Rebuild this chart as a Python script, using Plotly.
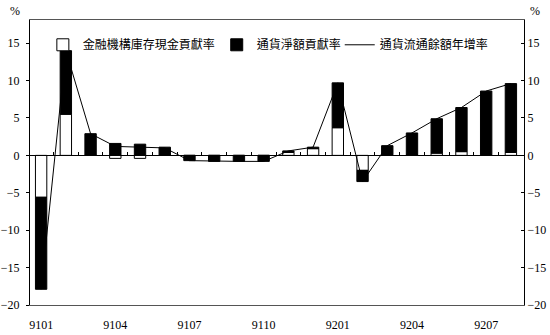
import plotly.graph_objects as go

months = ["9101", "9102", "9103", "9104", "9105", "9106", "9107", "9108", "9109", "9110",
          "9111", "9112", "9201", "9202", "9203", "9204", "9205", "9206", "9207", "9208"]
cash_contrib = [-5.6, 5.5, 0.0, -0.4, -0.4, 0.0, 0.0, 0.0, 0.0, 0.0,
                0.4, 0.9, 3.7, -2.0, 0.1, 0.1, 0.3, 0.5, 0.1, 0.4]
net_contrib = [-12.3, 8.5, 2.9, 1.6, 1.5, 1.1, -0.7, -0.8, -0.8, -0.8,
               0.2, 0.2, 6.0, -1.5, 1.2, 2.9, 4.6, 5.9, 8.5, 9.2]
growth = [-17.9, 14.0, 2.9, 1.2, 1.1, 1.0, -0.7, -0.8, -0.8, -0.8,
          0.6, 1.1, 9.7, -3.5, 1.3, 3.0, 4.9, 6.4, 8.6, 9.6]
tick_labels = ["9101", "9104", "9107", "9110", "9201", "9204", "9207"]
y_ticks = [-20, -15, -10, -5, 0, 5, 10, 15]

names = ["金融機構庫存現金貢獻率", "通貨淨額貢獻率", "通貨流通餘額年增率"]

x = list(range(len(months)))
tickpos = [months.index(t) for t in tick_labels]
YR = [-20, 18.1]
XR = [-0.45, len(months) - 0.47]

fig = go.Figure()
fig.add_trace(go.Bar(x=x, y=cash_contrib, name=names[0], width=0.46, legend="legend",
                     marker=dict(color="white", line=dict(color="black", width=1))))
fig.add_trace(go.Bar(x=x, y=net_contrib, name=names[1], width=0.46, legend="legend2",
                     marker=dict(color="black", line=dict(color="black", width=1))))
fig.add_trace(go.Scatter(x=x, y=growth, name=names[2], mode="lines", legend="legend3",
                         line=dict(color="black", width=1)))
# invisible trace for right axis
fig.add_trace(go.Scatter(x=[x[0]], y=[0], yaxis="y2", xaxis="x", showlegend=False,
                         mode="markers", marker=dict(opacity=0), hoverinfo="skip"))
# zero-line axis with category ticks
fig.add_trace(go.Scatter(x=[x[0]], y=[0], xaxis="x2", yaxis="y", showlegend=False,
                         mode="markers", marker=dict(opacity=0), hoverinfo="skip"))

zero_pos = (0 - YR[0]) / (YR[1] - YR[0])

tickfont = dict(family="Liberation Serif", size=12, color="black")
legfont = dict(family="Noto Sans CJK TC", size=12, color="black")


def leg(xp):
    return dict(orientation="h", x=xp, y=0.913, xanchor="left", yanchor="middle",
                bgcolor="rgba(0,0,0,0)", font=legfont, itemwidth=30)


fig.update_layout(
    template="none",
    width=550, height=335,
    margin=dict(l=30, r=26, t=20, b=30, autoexpand=False),
    paper_bgcolor="white", plot_bgcolor="white",
    barmode="relative",
    font=dict(family="Noto Sans CJK TC", size=12, color="black"),
    showlegend=True,
    legend=leg(0.026),
    legend2=leg(0.378),
    legend3=leg(0.627),
    xaxis=dict(range=XR, tickmode="array", tickvals=tickpos, ticktext=tick_labels,
               ticks="", showgrid=False, zeroline=False, showline=True, automargin=False,
               linecolor="#555", linewidth=1, mirror=True, tickfont=tickfont,
               ticklabelstandoff=9),
    xaxis2=dict(range=XR, overlaying="x", anchor="free", position=zero_pos,
                tickmode="array", tickvals=[i + 0.5 for i in x[:-1]], ticks="inside",
                ticklen=3, tickcolor="black", showticklabels=False, showgrid=False,
                automargin=False,
                zeroline=False, showline=True, linecolor="black", linewidth=1),
    yaxis=dict(range=YR, tickvals=y_ticks, ticks="outside", ticklen=3, tickcolor="black",
               showgrid=False, zeroline=False, showline=True, linecolor="black",
               automargin=False,
               linewidth=1, tickfont=tickfont, ticklabelstandoff=4),
    yaxis2=dict(range=YR, tickvals=y_ticks, overlaying="y", side="right", anchor="x",
                ticks="inside", ticklen=3, tickcolor="black", showgrid=False,
                automargin=False,
                zeroline=False, showline=True, linecolor="black", linewidth=1,
                tickfont=tickfont),
    annotations=[
        dict(text="%", x=0, xref="paper", xshift=-15, y=1, yref="paper", yshift=9,
             showarrow=False, font=tickfont, xanchor="center", yanchor="middle"),
        dict(text="%", x=1, xref="paper", xshift=11, y=1, yref="paper", yshift=9,
             showarrow=False, font=tickfont, xanchor="center", yanchor="middle"),
    ],
)

fig.write_html("out.html", config={"displayModeBar": False},
               post_script="document.body.style.margin='0';document.body.style.overflow='hidden';")
